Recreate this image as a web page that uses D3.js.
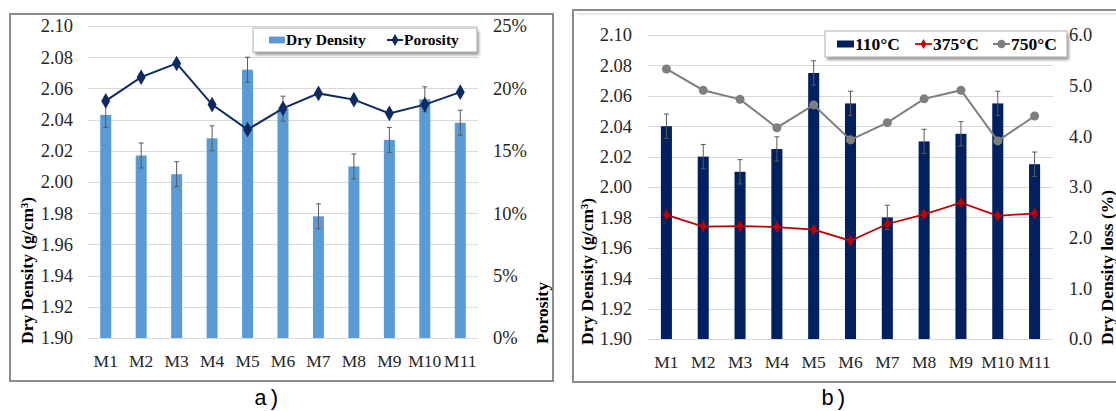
<!DOCTYPE html>
<html>
<head>
<meta charset="utf-8">
<script src="https://cdn.jsdelivr.net/npm/d3@7"></script>
<style>
  html, body { margin: 0; padding: 0; background: #fff; }
  svg { display: block; }
</style>
</head>
<body>
<svg id="chart" width="1116" height="411"></svg>
<script>
// ---- data ----
const categories = ["M1","M2","M3","M4","M5","M6","M7","M8","M9","M10","M11"];

// panel a)
const dryDensity   = [2.043, 2.017, 2.005, 2.028, 2.072, 2.047, 1.978, 2.010, 2.027, 2.053, 2.038];
const dryDensityErr = [0.008, 0.008, 0.008, 0.008, 0.008, 0.008, 0.008, 0.008, 0.008, 0.008, 0.008];
const porosity     = [0.190, 0.209, 0.220, 0.187, 0.167, 0.184, 0.196, 0.191, 0.180, 0.187, 0.197];

// panel b)
const density110   = [2.040, 2.020, 2.010, 2.025, 2.075, 2.055, 1.980, 2.030, 2.035, 2.055, 2.015];
const density110Err = [0.008, 0.008, 0.008, 0.008, 0.008, 0.008, 0.008, 0.008, 0.008, 0.008, 0.008];
const loss375      = [2.45, 2.22, 2.23, 2.21, 2.16, 1.94, 2.27, 2.46, 2.69, 2.43, 2.48];
const loss750      = [5.33, 4.91, 4.73, 4.17, 4.62, 3.93, 4.27, 4.74, 4.91, 3.91, 4.40];

const densityTicks = [1.90, 1.92, 1.94, 1.96, 1.98, 2.00, 2.02, 2.04, 2.06, 2.08, 2.10];
const porosityTicks = [0, 0.05, 0.10, 0.15, 0.20, 0.25];
const lossTicks = [0, 1, 2, 3, 4, 5, 6];

const SERIF = '"Liberation Serif", "Times New Roman", serif';
const MONO = '"Liberation Mono", "Courier New", monospace';

const svg = d3.select("#chart");
const defs = svg.append("defs");
defs.append("filter").attr("id", "shadow").attr("x", "-10%").attr("y", "-30%")
  .attr("width", "130%").attr("height", "190%")
  .append("feGaussianBlur").attr("stdDeviation", 1.6);

const GRID = "#d9d9d9";
const FRAME = "#8c8c8c";

// ---- shared drawing helpers ----
function frame(x0, y0, x1, y1, inner) {
  svg.append("rect").attr("x", x0).attr("y", y0).attr("width", x1 - x0).attr("height", y1 - y0)
    .attr("fill", "#fff").attr("stroke", FRAME).attr("stroke-width", 2);
  if (inner) {
    svg.append("line").attr("x1", x0 + 4).attr("x2", x1).attr("y1", y0 + 4).attr("y2", y0 + 4)
      .attr("stroke", "#d0d0d0").attr("stroke-width", 1);
  }
}

function styleTicks(a, size) {
  a.select(".domain").remove();
  a.selectAll("text").style("font-family", SERIF).style("font-size", size + "px").attr("fill", "#262626");
}

function leftAxis(g, y, ticks, fmt, xpos) {
  g.append("g").attr("transform", `translate(${xpos},0)`)
    .call(d3.axisLeft(y).tickValues(ticks).tickFormat(fmt).tickSize(0).tickPadding(0))
    .call(a => styleTicks(a, 18.5));
}

function rightAxis(g, y, ticks, fmt, xpos) {
  g.append("g").attr("transform", `translate(${xpos},0)`)
    .call(d3.axisRight(y).tickValues(ticks).tickFormat(fmt).tickSize(0).tickPadding(0))
    .call(a => styleTicks(a, 18.5));
}

function bottomAxis(g, x, ypos) {
  g.append("g").attr("transform", `translate(0,${ypos})`)
    .call(d3.axisBottom(x).tickSize(0).tickPadding(0))
    .call(a => styleTicks(a, 17.5))
    .call(a => a.selectAll("text").attr("dy", 0));
}

function gridlines(g, y, ticks, x0, x1) {
  g.append("g").selectAll("line").data(ticks).join("line")
    .attr("x1", x0).attr("x2", x1)
    .attr("y1", d => Math.round(y(d)) + 0.5).attr("y2", d => Math.round(y(d)) + 0.5)
    .attr("stroke", GRID).attr("stroke-width", 1);
}

function bars(g, x, y, values, errs, color, frac) {
  const w = x.bandwidth() * frac;
  const cx = i => x(categories[i]) + x.bandwidth() / 2;
  g.append("g").selectAll("rect").data(values).join("rect")
    .attr("x", (d, i) => cx(i) - w / 2).attr("width", w)
    .attr("y", d => y(d)).attr("height", d => y.range()[0] - y(d))
    .attr("fill", color);
  const eb = g.append("g").attr("stroke", "#595959").attr("stroke-width", 1);
  values.forEach((d, i) => {
    const c = cx(i);
    eb.append("line").attr("x1", c).attr("x2", c).attr("y1", y(d + errs[i])).attr("y2", y(d - errs[i]));
    eb.append("line").attr("x1", c - 2.5).attr("x2", c + 2.5).attr("y1", y(d + errs[i])).attr("y2", y(d + errs[i]));
    eb.append("line").attr("x1", c - 2.5).attr("x2", c + 2.5).attr("y1", y(d - errs[i])).attr("y2", y(d - errs[i]));
  });
}

function lineSeries(g, x, y, values, color, width, marker, msize) {
  const cx = i => x(categories[i]) + x.bandwidth() / 2;
  g.append("path").datum(values)
    .attr("fill", "none").attr("stroke", color).attr("stroke-width", width)
    .attr("d", d3.line().x((d, i) => cx(i)).y(d => y(d)));
  g.append("g").selectAll("path").data(values).join("path")
    .attr("transform", (d, i) => `translate(${cx(i)},${y(d)})`)
    .attr("d", d3.symbol().type(marker).size(msize))
    .attr("fill", color);
}

function axisTitle(x, yBottom, text) {
  svg.append("text").attr("transform", `translate(${x},${yBottom}) rotate(-90)`)
    .style("font-family", SERIF).style("font-size", "17.5px").style("font-weight", "bold")
    .attr("fill", "#000").attr("text-anchor", "start").text(text);
}

function legend(x0, y0, x1, y1, items, fs, baseline) {
  const g = svg.append("g");
  g.append("rect").attr("x", x0 + 2).attr("y", y0 + 3).attr("width", x1 - x0).attr("height", y1 - y0)
    .attr("fill", "#9a9a9a").attr("filter", "url(#shadow)");
  g.append("rect").attr("x", x0).attr("y", y0).attr("width", x1 - x0).attr("height", y1 - y0)
    .attr("fill", "#fff").attr("stroke", "#b0b0b0").attr("stroke-width", 1);
  items.forEach(it => {
    const my = y0 + (y1 - y0) / 2;
    if (it.kind === "bar") {
      g.append("rect").attr("x", it.sx).attr("y", my - 3.5).attr("width", it.sw).attr("height", 7).attr("fill", it.color);
    } else {
      g.append("line").attr("x1", it.sx).attr("x2", it.sx + it.sw).attr("y1", my).attr("y2", my)
        .attr("stroke", it.color).attr("stroke-width", it.lw);
      g.append("path").attr("transform", `translate(${it.sx + it.sw / 2},${my})`)
        .attr("d", d3.symbol().type(it.marker).size(it.msize)).attr("fill", it.color);
    }
    g.append("text").attr("x", it.sx + it.sw + 1).attr("y", baseline)
      .style("font-family", SERIF).style("font-size", fs + "px").style("font-weight", "bold")
      .attr("fill", "#000").text(it.label);
  });
}

// ================= panel a) =================
frame(10, 14, 553, 381, false);
{
  const g = svg.append("g");
  const x = d3.scaleBand().domain(categories).range([88, 478]).padding(0);
  const y = d3.scaleLinear().domain([1.90, 2.10]).range([338, 26]);
  const y2 = d3.scaleLinear().domain([0, 0.25]).range([338, 26]);

  gridlines(g, y, densityTicks, 88, 478);
  bars(g, x, y, dryDensity, dryDensityErr, "#5b9bd5", 0.31);
  lineSeries(g, x, y2, porosity, "#0d2a63", 2, d3.symbolDiamond, 70);

  leftAxis(g, y, densityTicks, d3.format(".2f"), 73);
  rightAxis(g, y2, porosityTicks, d3.format(".0%"), 493);
  bottomAxis(g, x, 367);

  axisTitle(33, 344, "Dry Density (g/cm³)");
  axisTitle(548, 344, "Porosity");

  legend(253, 28, 477, 52, [
    { kind: "bar", label: "Dry Density", color: "#5b9bd5", sx: 269, sw: 16 },
    { kind: "line", label: "Porosity", color: "#0d2a63", sx: 387, sw: 16, lw: 2, marker: d3.symbolDiamond, msize: 40 }
  ], 15.5, 45);
}

// ================= panel b) =================
frame(573, 10, 1130, 382, true);
{
  const g = svg.append("g");
  const x = d3.scaleBand().domain(categories).range([648, 1053]).padding(0);
  const y = d3.scaleLinear().domain([1.90, 2.10]).range([339, 35]);
  const y2 = d3.scaleLinear().domain([0, 6]).range([339, 35]);

  gridlines(g, y, densityTicks, 648, 1053);
  bars(g, x, y, density110, density110Err, "#002060", 0.3);
  lineSeries(g, x, y2, loss375, "#c00000", 1.75, d3.symbolDiamond, 40);
  lineSeries(g, x, y2, loss750, "#7f7f7f", 2, d3.symbolCircle, 64);

  leftAxis(g, y, densityTicks, d3.format(".2f"), 632);
  rightAxis(g, y2, lossTicks, d3.format(".1f"), 1069);
  bottomAxis(g, x, 368);

  axisTitle(593, 345, "Dry Density (g/cm³)");
  axisTitle(1113, 345, "Dry Density loss (%)");

  legend(825, 31, 1067, 57, [
    { kind: "bar", label: "110°C", color: "#002060", sx: 837, sw: 17 },
    { kind: "line", label: "375°C", color: "#c00000", sx: 915, sw: 17, lw: 1.75, marker: d3.symbolDiamond, msize: 30 },
    { kind: "line", label: "750°C", color: "#7f7f7f", sx: 993, sw: 17, lw: 2, marker: d3.symbolCircle, msize: 55 }
  ], 17.5, 50);
}

// panel captions
svg.append("text").attr("x", 254).attr("y", 405).style("font-family", MONO)
  .style("font-size", "22px").attr("fill", "#000").text("a)");
svg.append("text").attr("x", 821).attr("y", 405).style("font-family", MONO)
  .style("font-size", "22px").attr("fill", "#000").text("b)");
</script>
</body>
</html>
